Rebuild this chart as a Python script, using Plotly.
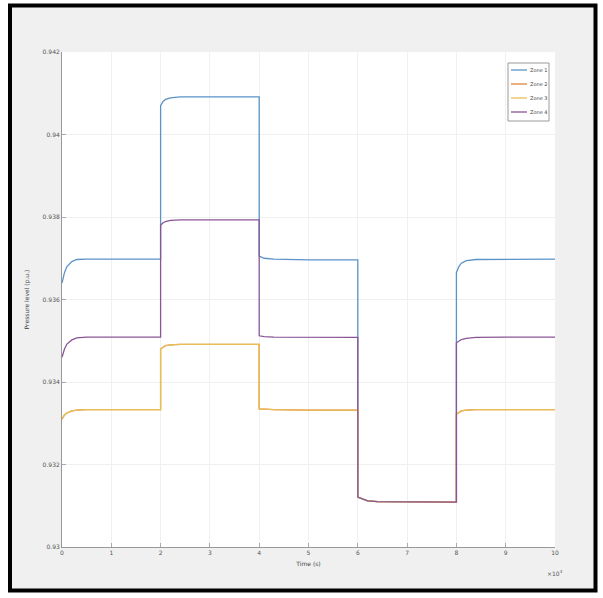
import plotly.graph_objects as go

# time in units of 1e4 s
time = [0, 0.05, 0.1, 0.2, 0.3, 0.5, 1.0, 2.0,
        2.0, 2.05, 2.1, 2.2, 2.4, 3.0, 4.0,
        4.0, 4.1, 4.3, 5.0, 6.0,
        6.0, 6.1, 6.2, 6.4, 7.0, 8.0,
        8.0, 8.05, 8.1, 8.2, 8.4, 9.0, 10.0]

zone1 = [0.93640, 0.93665, 0.93680, 0.93692, 0.93697, 0.93698, 0.93698, 0.93698,
         0.94070, 0.94080, 0.94085, 0.94089, 0.94091, 0.94091, 0.94091,
         0.93705, 0.93700, 0.93698, 0.93696, 0.93696,
         0.93121, 0.93116, 0.93112, 0.93110, 0.93109, 0.93109,
         0.93665, 0.93680, 0.93688, 0.93694, 0.93697, 0.93698, 0.93698]

zone2 = [0.93310, 0.93320, 0.93325, 0.93330, 0.93332, 0.93333, 0.93333, 0.93333,
         0.93480, 0.93485, 0.93488, 0.93490, 0.93491, 0.93491, 0.93491,
         0.93335, 0.93334, 0.93333, 0.93332, 0.93332,
         0.93121, 0.93116, 0.93112, 0.93110, 0.93109, 0.93109,
         0.93322, 0.93327, 0.93330, 0.93332, 0.93333, 0.93333, 0.93333]

zone3 = list(zone2)

zone4 = [0.93460, 0.93480, 0.93492, 0.93502, 0.93507, 0.93509, 0.93509, 0.93509,
         0.93780, 0.93786, 0.93789, 0.93792, 0.93793, 0.93793, 0.93793,
         0.93512, 0.93510, 0.93509, 0.93508, 0.93508,
         0.93121, 0.93116, 0.93112, 0.93110, 0.93109, 0.93109,
         0.93495, 0.93500, 0.93503, 0.93506, 0.93508, 0.93509, 0.93509]

names = ["Zone 1", "Zone 2", "Zone 3", "Zone 4"]
colors = ["#5b93c9", "#e0843f", "#e9be55", "#8a5597"]
series = [zone1, zone2, zone3, zone4]

x_ticks = [0, 1, 2, 3, 4, 5, 6, 7, 8, 9, 10]
y_ticks = [0.93, 0.932, 0.934, 0.936, 0.938, 0.94, 0.942]

fig = go.Figure()
for n, c, s in zip(names, colors, series):
    fig.add_trace(go.Scatter(x=time, y=s, mode="lines", name=n,
                             line=dict(color=c, width=1.3), showlegend=False))

W, H = 603, 598
L, T = 62, 52
pw, ph = 493, 495
R = W - L - pw
B = H - T - ph

def px_x(p):
    return (p - L) / pw

def px_y(p):
    return (H - B - p) / ph

# figure frame (gray panel with black border)
fig.add_shape(type="rect", xref="paper", yref="paper",
              x0=px_x(10), x1=px_x(595.5), y0=px_y(590.5), y1=px_y(5.5),
              fillcolor="#f0f0f0", line=dict(color="black", width=4), layer="below")
fig.add_shape(type="rect", xref="paper", yref="paper",
              x0=0, x1=1, y0=0, y1=1,
              fillcolor="white", line=dict(width=0), layer="below")

# compact legend box (MATLAB style)
fig.add_shape(type="rect", xref="paper", yref="paper",
              x0=px_x(508), x1=px_x(549), y0=px_y(121), y1=px_y(63),
              fillcolor="white", line=dict(color="#9a9a9a", width=1))
for i, (n, c) in enumerate(zip(names, colors)):
    yy = 70 + i * 14
    fig.add_shape(type="line", xref="paper", yref="paper",
                  x0=px_x(511), x1=px_x(527), y0=px_y(yy), y1=px_y(yy),
                  line=dict(color=c, width=1.3))
    fig.add_annotation(xref="paper", yref="paper", x=px_x(528), y=px_y(yy),
                       text=n, showarrow=False, xanchor="left", yanchor="middle",
                       font=dict(size=5, color="#444"))

fig.update_layout(
    width=W, height=H,
    margin=dict(l=L, r=R, t=T, b=B),
    paper_bgcolor="white",
    plot_bgcolor="white",
    font=dict(family="DejaVu Sans", size=6, color="#555"),
    showlegend=False,
    xaxis=dict(range=[0, 10], tickvals=x_ticks, ticktext=[str(v) for v in x_ticks],
               showgrid=True, gridcolor="#f0f0f0", gridwidth=1,
               zeroline=False, showline=True, linecolor="#999", linewidth=1,
               ticks="inside", ticklen=4, tickcolor="#aaa",
               title=dict(text="Time (s)", font=dict(size=6, color="#444"), standoff=6)),
    yaxis=dict(range=[0.93, 0.942], tickvals=y_ticks,
               ticktext=["0.93", "0.932", "0.934", "0.936", "0.938", "0.94", "0.942"],
               showgrid=True, gridcolor="#f0f0f0", gridwidth=1,
               zeroline=False, showline=True, linecolor="#999", linewidth=1,
               ticks="inside", ticklen=4, tickcolor="#aaa",
               title=dict(text="Pressure level (p.u.)", font=dict(size=6, color="#444"), standoff=12)),
)

fig.add_annotation(xref="paper", yref="paper", x=1.0, y=-0.04,
                   text="×10<sup>4</sup>", showarrow=False,
                   xanchor="center", yanchor="top", font=dict(size=6, color="#555"))

fig.write_html("out.html",
               config={"displayModeBar": False},
               post_script="document.body.style.margin='0';document.body.style.overflow='hidden';")
